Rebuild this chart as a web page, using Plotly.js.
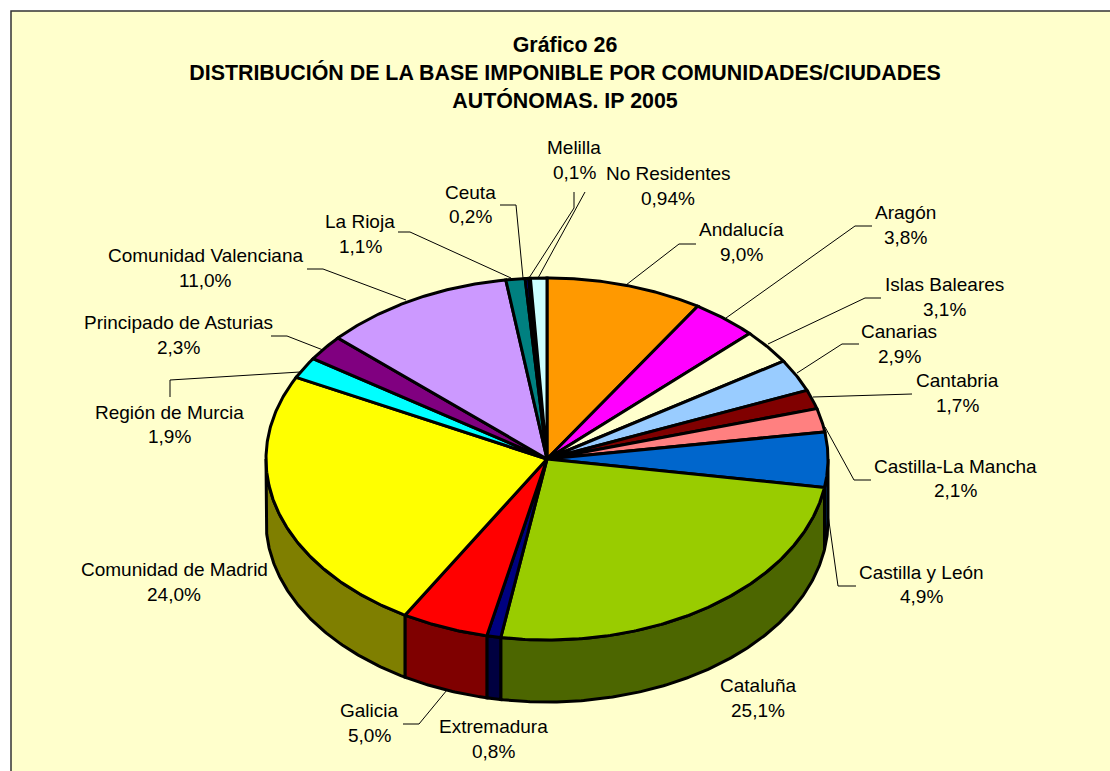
<!DOCTYPE html>
<html><head><meta charset="utf-8">
<script src="https://cdn.plot.ly/plotly-3.0.1.min.js"></script>
<style>html,body{margin:0;padding:0;background:#fff}#chart{width:1110px;height:771px}</style>
</head><body><div id="chart"></div>
<script>
const categories = ["Andalucía","Aragón","Islas Baleares","Canarias","Cantabria","Castilla-La Mancha","Castilla y León","Cataluña","Extremadura","Galicia","Comunidad de Madrid","Región de Murcia","Principado de Asturias","Comunidad Valenciana","La Rioja","Ceuta","Melilla","No Residentes"];
const values = [9.0,3.8,3.1,2.9,1.7,2.1,4.9,25.1,0.8,5.0,24.0,1.9,2.3,11.0,1.1,0.2,0.1,0.94];
const valueLabels = ["9,0%","3,8%","3,1%","2,9%","1,7%","2,1%","4,9%","25,1%","0,8%","5,0%","24,0%","1,9%","2,3%","11,0%","1,1%","0,2%","0,1%","0,94%"];
const topColors = ["#FF9900","#FF00FF","#FFFFCC","#99CCFF","#800000","#FF8080","#0066CC","#99CC00","#000080","#FF0000","#FFFF00","#00FFFF","#800080","#CC99FF","#008080","#0000FF","#00CCFF","#CCFFFF"];
const titleText = "Gráfico 26<br>DISTRIBUCIÓN DE LA BASE IMPONIBLE POR COMUNIDADES/CIUDADES<br>AUTÓNOMAS. IP 2005";

// layout of the tilted pie
const cx=547, cy=459, rx=281, ry=181, depth=62;
// label centres [x, y of name, y of value]
const labelPos = [[741,229,254],[905,212,237],[944,284,309],[899,331,356],[957,380,405],[955,466,490],[921,572,596],[758,685,710],[493,726,751],[369,710,735],[174,569,594],[169,412,436],[178,322,347],[205,255,280],[360,221,246],[470,192,216],[574,147,172],[668,173,198]];
// leader polylines
const leaders = [
 [[696,244],[679,244],[626,285]],
 [[872,226],[855,226],[726,318]],
 [[881,298],[865,298],[768,344]],
 [[859,344],[842,344],[797,373]],
 [[912,394],[813,397]],
 [[871,480],[854,480],[825,427]],
 [[856,586],[838,586],[826,500]],
 [[403,724],[419,724],[447,690]],
 [[170,397],[170,380],[300,372]],
 [[271,336],[287,336],[323,350]],
 [[307,269],[323,269],[406,300]],
 [[398,232],[410,232],[511,278]],
 [[500,205],[516,205],[523,278]],
 [[574,192],[574,208],[529,278]],
 [[585,192],[538,278]]
];

function darken(hex){
  const n=parseInt(hex.slice(1),16);
  const f=c=>Math.floor(c/2);
  return `rgb(${f(n>>16&255)},${f(n>>8&255)},${f(n&255)})`;
}
function arc(a0,a1,dy){
  const xs=[],ys=[],steps=Math.max(2,Math.ceil(Math.abs(a1-a0)/0.5));
  for(let i=0;i<=steps;i++){
    const a=(a0+(a1-a0)*i/steps)*Math.PI/180;
    xs.push(cx+rx*Math.sin(a)); ys.push(cy-ry*Math.cos(a)+dy);
  }
  return [xs,ys];
}
const total=values.reduce((s,v)=>s+v,0);
let acc=0;
const sweeps=values.map(v=>{const a=acc/total*360; acc+=v; return [a,acc/total*360];});

const traces=[];
// side walls (front half only)
sweeps.forEach(([a0,a1],i)=>{
  const s=Math.max(a0,90), e=Math.min(a1,270);
  if(e<=s) return;
  const [tx,ty]=arc(s,e,0), [bx,by]=arc(e,s,depth);
  traces.push({type:"scatter",mode:"lines",x:tx.concat(bx,[tx[0]]),y:ty.concat(by,[ty[0]]),fill:"toself",fillcolor:darken(topColors[i]),line:{color:"#000",width:3},name:categories[i],hoverinfo:"name",showlegend:false});
});
// top faces
sweeps.forEach(([a0,a1],i)=>{
  const [tx,ty]=arc(a0,a1,0);
  traces.push({type:"scatter",mode:"lines",x:[cx].concat(tx,[cx]),y:[cy].concat(ty,[cy]),fill:"toself",fillcolor:topColors[i],line:{color:"#000",width:3},name:categories[i],text:valueLabels[i],hoverinfo:"name+text",showlegend:false});
});

const labelFont={family:"Liberation Sans, Arial, sans-serif",size:19,color:"#000"};
const annotations=[];
categories.forEach((c,i)=>{
  const [x,y1,y2]=labelPos[i];
  annotations.push({x,y:y1,xref:"x",yref:"y",text:c,showarrow:false,xanchor:"center",yanchor:"middle",font:labelFont});
  annotations.push({x,y:y2,xref:"x",yref:"y",text:valueLabels[i],showarrow:false,xanchor:"center",yanchor:"middle",font:labelFont});
});
const shapes=[{type:"rect",layer:"below",xref:"x",yref:"y",x0:11,y0:11,x1:1125,y1:790,fillcolor:"#FFFFCC",line:{color:"#333",width:1.5}}];
leaders.forEach(p=>{
  shapes.push({type:"path",layer:"below",xref:"x",yref:"y",path:"M"+p.map(q=>q.join(",")).join("L"),line:{color:"#000",width:1}});
});
const layout={
  width:1110,height:771,margin:{l:0,r:0,t:0,b:0},paper_bgcolor:"#fff",plot_bgcolor:"rgba(0,0,0,0)",showlegend:false,
  title:{text:titleText,x:565/1110,xanchor:"center",xref:"paper",y:1-52/771,yanchor:"top",yref:"paper",font:{family:"Liberation Sans, Arial, sans-serif",size:21.4,color:"#000",weight:"bold"}},
  xaxis:{range:[0,1110],visible:false,fixedrange:true},
  yaxis:{range:[771,0],visible:false,fixedrange:true},
  annotations,shapes
};
Plotly.newPlot("chart",traces,layout,{displayModeBar:false}).then(gd=>{
  gd.querySelectorAll(".gtitle tspan.line").forEach((s,i)=>{ s.setAttribute("dy",(i*28)+"px"); });
});
</script></body></html>
